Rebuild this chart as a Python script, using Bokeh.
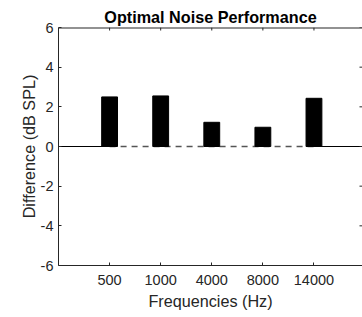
from bokeh.plotting import figure
from bokeh.models import FixedTicker, Range1d
from bokeh.embed import file_html
from bokeh.resources import INLINE

categories = ["500", "1000", "4000", "8000", "14000"]
differences = [2.5, 2.55, 1.22, 0.97, 2.43]
y_ticks = [-6, -4, -2, 0, 2, 4, 6]

n = len(categories)
xs = list(range(1, n + 1))
X_END = n + 0.95          # right edge of the axes falls just past the window
Y_MIN, Y_MAX = -6, 6
FONT = "Liberation Sans"
TXT = "#262626"
AX = "#262626"

p = figure(width=362, height=317, output_backend="svg", toolbar_location=None,
           x_range=Range1d(0, X_END), y_range=Range1d(Y_MIN, Y_MAX),
           min_border_left=58, min_border_right=0, min_border_top=27, min_border_bottom=52,
           title="Optimal Noise Performance")
p.outline_line_color = None
p.grid.grid_line_color = None
p.background_fill_color = "white"

p.title.align = "center"
p.title.text_font = FONT
p.title.text_font_size = "16.2px"
p.title.text_font_style = "bold"
p.title.text_color = "black"
p.title.offset = 0
p.title.standoff = 3

# baseline: solid outside the bar span, dashed between the bars
p.line([0, xs[0]], [0, 0], line_color="black", line_width=1)
p.line([xs[-1], X_END], [0, 0], line_color="black", line_width=1)
p.line([xs[0], xs[-1]], [0, 0], line_color="#555555", line_width=1.5, line_dash="6 5")

p.vbar(x=xs, top=differences, bottom=0, width=0.31, fill_color="black", line_color="black")

# top border of the axes box
p.line([0, X_END], [Y_MAX, Y_MAX], line_color=AX, line_width=2)
# inward tick marks on top and right edges (about 3 px long)
ty = (Y_MAX - Y_MIN) * 3 / 237
tx = X_END * 3 / 303
p.segment(x0=xs, y0=[Y_MAX] * n, x1=xs, y1=[Y_MAX - ty] * n, line_color=AX, line_width=1)
p.segment(x0=[X_END - tx] * len(y_ticks), y0=y_ticks, x1=[X_END] * len(y_ticks), y1=y_ticks,
          line_color=AX, line_width=1)

for ax in (p.xaxis[0], p.yaxis[0]):
    ax.axis_line_color = AX
    ax.major_tick_line_color = AX
    ax.major_tick_in = 3
    ax.major_tick_out = 0
    ax.minor_tick_line_color = None
    ax.major_label_text_font = FONT
    ax.major_label_text_font_size = "14.5px"
    ax.major_label_text_color = TXT
    ax.axis_label_text_font = FONT
    ax.axis_label_text_font_size = "16.2px"
    ax.axis_label_text_font_style = "normal"
    ax.axis_label_text_color = TXT

p.xaxis[0].ticker = FixedTicker(ticks=xs)
p.xaxis[0].major_label_overrides = {x: c for x, c in zip(xs, categories)}
p.xaxis[0].axis_label = "Frequencies (Hz)"
p.xaxis[0].major_label_standoff = 9
p.xaxis[0].axis_label_standoff = 4

p.yaxis[0].ticker = FixedTicker(ticks=y_ticks)
p.yaxis[0].major_label_overrides = {t: str(t) for t in y_ticks}
p.yaxis[0].axis_label = "Difference (dB SPL)"
p.yaxis[0].major_label_standoff = 5
p.yaxis[0].axis_label_standoff = 0

open("out.html", "w").write(file_html(p, INLINE))
